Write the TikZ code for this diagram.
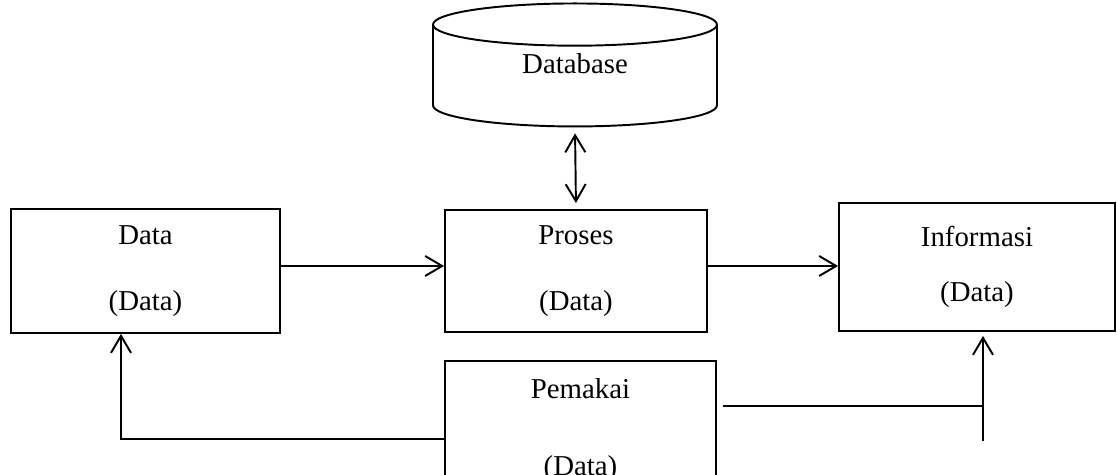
\documentclass[tikz,border=0pt]{standalone}
\usepackage{fontspec}
\setmainfont{Liberation Serif}
\usepackage{tikz}
\usetikzlibrary{arrows.meta,shapes.geometric}

\begin{document}
\begin{tikzpicture}[x=0.02cm,y=-0.02cm,
	font=\fontsize{16.4}{20}\selectfont,
	line width=1.1pt,
	kotak/.style={shape=rectangle,draw=black,align=center,inner sep=0pt},
	panah/.style={-{Straight Barb[length=0.34cm,width=0.4cm]}}]

	\useasboundingbox (0,0) rectangle (1117,475);

	\node[shape=cylinder,shape border rotate=90,draw=black,aspect=0.36,
		minimum width=5.68cm,minimum height=2.46cm] (db) at (575,79)
		{\raisebox{0.3cm}[\height][\depth]{Database}};


	\node[kotak,minimum width=5.38cm,minimum height=2.48cm] (data) at (145.5,271)
		{Data\\[0.63cm](Data)};
	\node[kotak,minimum width=5.24cm,minimum height=2.44cm] (proses) at (576,271)
		{Proses\\[0.63cm](Data)};


	\node[kotak,minimum width=5.52cm,minimum height=2.56cm] (info) at (977,267)
		{Informasi\\[0.41cm](Data)};

	\node[kotak,minimum width=5.42cm,minimum height=2.76cm] (pakai) at (580.5,430)
		{Pemakai\\[0.85cm](Data)};

	\coordinate (kiri) at (121,439);
	\coordinate (kanan) at (983,441);


	\path[{Straight Barb[length=0.34cm,width=0.4cm]}-{Straight Barb[length=0.34cm,width=0.4cm]},
		shorten <=0.12cm, shorten >=0.12cm] (db.south) edge (proses.north);
	\path[panah] ([yshift=0.1cm]data.east) edge ([yshift=0.1cm]data.east -| proses.west);
	\path[panah] ([yshift=0.1cm]proses.east) edge ([yshift=0.1cm]proses.east -| info.west);

	\draw[panah] (pakai.west |- kiri) -- (kiri) -- (kiri |- data.south);
	\draw ([xshift=0.12cm,yshift=0.48cm]pakai.east) -- ([yshift=0.48cm]pakai.east -| kanan);
	\draw[panah, shorten >=0.08cm] (kanan) -- (kanan |- info.south);

\end{tikzpicture}
\end{document}
